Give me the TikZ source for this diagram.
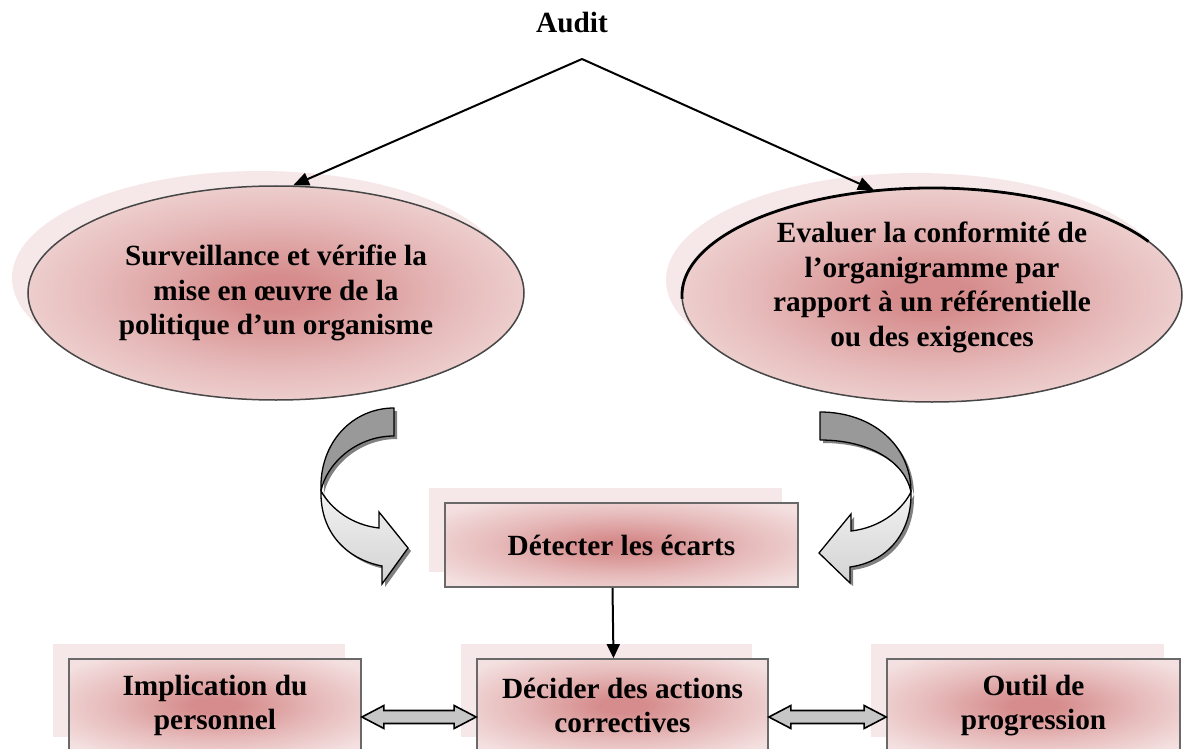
\documentclass[tikz,border=0pt]{standalone}
\usepackage{fontspec}
\setmainfont{Liberation Serif}
\usetikzlibrary{shapes.geometric,arrows.meta,calc,shadows}

\definecolor{pkdark}{RGB}{214,140,140}
\definecolor{pklight}{RGB}{244,224,224}
\colorlet{pkmid}{pkdark!45!pklight}
\definecolor{pkshadow}{RGB}{246,232,232}
\definecolor{edgegray}{RGB}{70,70,70}
\definecolor{boxgray}{RGB}{105,105,105}

\pgfdeclareradialshading{pinkglow}{\pgfpoint{0bp}{0bp}}{%
  color(0bp)=(pkdark); color(4bp)=(pkdark); color(18bp)=(pkmid);
  color(32bp)=(pklight); color(50bp)=(pklight)}

% outlines of the two twisted curved arrows
\newcommand\darkL{(394,408) .. controls (353,408) and (319,442) .. (321,491)
  .. controls (326,465) and (355,436) .. (394,436) -- cycle}
\newcommand\lightL{(321,491) .. controls (331,509) and (352,525) .. (379,528)
  -- (379,512) -- (408,548) -- (382,584) -- (382,566)
  .. controls (346,559) and (320,532) .. (321,491) -- cycle}
\newcommand\darkR{(820,412) .. controls (872,412) and (911,445) .. (911,492)
  .. controls (905,462) and (870,440) .. (820,440) -- cycle}
\newcommand\lightR{(911,492) .. controls (901,512) and (878,528) .. (851,531)
  -- (851,514) -- (819,553) -- (850,583) -- (850,567)
  .. controls (887,562) and (912,533) .. (911,492) -- cycle}

% grey block arrow with a head at both ends
\newcommand\twoway[2]{%
  \filldraw[twowaystyle] let \p1=(#1), \p2=(#2) in
    (\x1,\y1) -- ++(22pt,11.5pt) -- ++(0pt,-5pt) -- ({\x2-22pt},{\y1+6.5pt})
    -- ++(0pt,5pt) -- (\x2,\y2) -- ++(-22pt,-11.5pt) -- ++(0pt,5pt)
    -- ({\x1+22pt},{\y1-6.5pt}) -- ++(0pt,-5pt) -- cycle;}

\begin{document}
\begin{tikzpicture}[x=1pt,y=-1pt,
  font=\fontsize{29.3}{34.5}\selectfont\bfseries,
  oval/.style={ellipse, draw=edgegray, line width=1.5pt, shading=pinkglow,
    align=center, inner sep=0pt,
    general shadow={fill=pkshadow, shadow xshift=-16pt, shadow yshift=15pt}},
  box/.style={rectangle, draw=boxgray, line width=1.8pt, shading=pinkglow,
    align=center, inner sep=0pt,
    general shadow={fill=pkshadow, shadow xshift=-16pt, shadow yshift=15pt}},
  conn/.style={line width=2pt, -{Triangle[length=16pt,width=13pt]}},
  twowaystyle/.style={fill=gray!45, draw=black, line width=1.6pt, line join=miter},
  bandshadow/.style={fill=black!50},
  banddark/.style={fill=gray!80, draw=black, line width=1.3pt, line join=round},
  bandlight/.style={draw=black, line width=1.3pt, line join=miter}]

\clip (0,0) rectangle (1187,749);

% title and its fork
\node (audit) at (572,23) {Audit};
\coordinate (apex) at (582,59);

% the two aims of the audit
\node[oval, minimum width=496, minimum height=214] (surv) at (276,293)
  {Surveillance et vérifie la\\mise en œuvre de la\\politique d’un organisme};
\node[oval, minimum width=500, minimum height=214, text depth=22pt] (eval) at (932,295)
  {Evaluer la conformité de\\l’organigramme par\\rapport à un référentielle\\ou des exigences};
\draw[line width=2.8pt] ($(eval.center)+(30:250pt and 107pt)$)
  arc[start angle=30, end angle=182, x radius=250pt, y radius=107pt];

\draw[conn] (apex) -- (surv.81);
\draw[conn] (apex) -- (eval.119);

% curved arrows leading to the detection step
\begin{scope}[shift={(3,3)}]
  \fill[bandshadow] \darkL; \fill[bandshadow] \lightL;
  \fill[bandshadow] \darkR; \fill[bandshadow] \lightR;
\end{scope}
\draw[banddark] \darkL;
\draw[bandlight, top color=gray!10, bottom color=gray!35] \lightL;
\draw[banddark] \darkR;
\draw[bandlight, top color=gray!10, bottom color=gray!35] \lightR;

% detection, decision and the two linked outcomes
\node[box, minimum width=353, minimum height=84] (det) at (621.5,545) {Détecter les écarts};

\node[box, minimum width=292, minimum height=93] (impl) at (215,705.5)
  {Implication du\\personnel};
\node[box, minimum width=291, minimum height=93] (dec) at (622.5,705.5)
  {Décider des actions\\correctives};
\node[box, minimum width=293, minimum height=93] (outil) at (1033.5,705.5)
  {Outil de\\progression};

\draw[line width=2pt, -{Triangle[length=14pt,width=13pt]}]
  ([xshift=-9pt]det.south) -- ([xshift=-9pt]dec.north);

\twoway{$(impl.east)+(0,11.5)$}{$(dec.west)+(0,11.5)$}
\twoway{$(dec.east)+(0,11.5)$}{$(outil.west)+(0,11.5)$}

\end{tikzpicture}
\end{document}
